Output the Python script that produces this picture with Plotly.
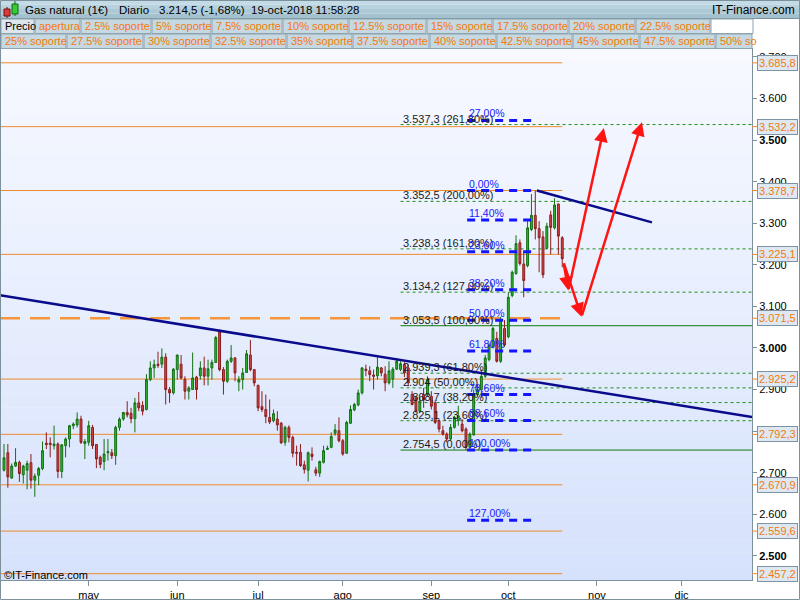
import plotly.graph_objects as go
import pandas as pd

# ---------------- data ----------------
opens = [2.706,2.748,2.687,2.716,2.725,2.695,2.706,2.724,2.682,2.694,2.710,2.771,2.771,2.765,2.769,2.703,2.765,2.781,2.813,2.815,
         2.829,2.770,2.773,2.809,2.768,2.737,2.727,2.748,2.748,2.741,2.809,2.829,2.845,2.843,2.830,2.868,2.862,2.852,2.924,2.952,
         2.961,2.961,2.978,2.900,2.892,2.948,2.961,2.925,2.896,2.900,2.930,2.933,2.952,2.932,2.952,2.965,3.039,2.948,2.920,2.968,
         2.976,2.918,2.924,2.941,2.983,2.948,2.910,2.859,2.852,2.833,2.825,2.829,2.819,2.773,2.809,2.785,2.749,2.749,2.719,2.706,
         2.745,2.707,2.699,2.725,2.756,2.761,2.795,2.801,2.777,2.747,2.819,2.851,2.863,2.892,2.949,2.945,2.935,2.933,2.952,2.937,
         2.916,2.925,2.949,2.948,2.960,2.952,2.888,2.880,2.848,2.888,2.888,2.884,2.868,2.825,2.801,2.793,2.781,2.809,2.825,2.817,
         2.805,2.761,2.791,2.888,2.900,2.932,2.972,3.003,3.023,2.968,3.047,3.027,3.126,3.179,3.253,3.202,3.198,3.285,3.319,3.287,
         3.267,3.240,3.320,3.289,3.346,3.265]
highs = [2.769,2.769,2.722,2.759,2.729,2.719,2.729,2.745,2.698,2.714,2.775,2.797,2.785,2.813,2.773,2.769,2.785,2.815,2.821,2.845,
         2.837,2.781,2.825,2.815,2.769,2.741,2.781,2.781,2.757,2.813,2.833,2.846,2.872,2.856,2.880,2.894,2.872,2.937,2.968,2.972,
         2.991,2.999,2.987,2.906,2.952,2.984,2.983,2.932,2.908,2.989,2.933,2.968,2.979,2.972,2.972,3.029,3.044,2.954,2.972,3.007,
         2.978,2.932,2.952,2.995,3.019,2.949,2.912,2.896,2.888,2.876,2.852,2.848,2.822,2.813,2.814,2.789,2.765,2.769,2.729,2.751,
         2.761,2.714,2.729,2.765,2.765,2.797,2.817,2.833,2.781,2.825,2.862,2.868,2.900,2.954,2.960,2.956,2.948,2.978,2.954,2.956,
         2.968,2.954,2.976,2.968,2.966,2.960,2.896,2.884,2.880,2.904,2.932,2.896,2.874,2.829,2.813,2.797,2.817,2.837,2.861,2.829,
         2.809,2.797,2.900,2.912,2.948,2.983,3.012,3.051,3.039,3.075,3.067,3.134,3.186,3.271,3.261,3.233,3.305,3.370,3.3787,3.305,
         3.281,3.301,3.330,3.360,3.348,3.269]
lows = [2.703,2.664,2.686,2.714,2.678,2.674,2.660,2.662,2.642,2.670,2.706,2.757,2.737,2.756,2.687,2.687,2.737,2.761,2.805,2.809,
        2.769,2.733,2.765,2.757,2.711,2.711,2.706,2.729,2.733,2.719,2.801,2.825,2.833,2.819,2.797,2.848,2.838,2.850,2.920,2.928,
        2.952,2.952,2.864,2.868,2.888,2.924,2.924,2.876,2.876,2.900,2.876,2.924,2.910,2.910,2.924,2.964,2.944,2.888,2.916,2.964,
        2.920,2.896,2.900,2.940,2.944,2.908,2.848,2.846,2.819,2.817,2.821,2.801,2.769,2.765,2.773,2.737,2.717,2.714,2.698,2.679,
        2.729,2.692,2.690,2.722,2.755,2.759,2.789,2.773,2.741,2.745,2.817,2.848,2.860,2.888,2.932,2.920,2.900,2.924,2.932,2.896,
        2.912,2.904,2.947,2.944,2.930,2.908,2.862,2.845,2.845,2.856,2.884,2.852,2.817,2.797,2.789,2.773,2.777,2.806,2.813,2.797,
        2.7545,2.757,2.789,2.884,2.880,2.928,2.968,2.999,2.965,2.964,3.003,3.023,3.122,3.176,3.198,3.122,3.194,3.281,3.261,3.182,
        3.168,3.238,3.225,3.285,3.225,3.194]
closes = [2.736,2.690,2.716,2.725,2.698,2.716,2.722,2.682,2.692,2.710,2.753,2.768,2.768,2.769,2.703,2.767,2.781,2.813,2.817,2.829,
          2.773,2.775,2.813,2.765,2.733,2.720,2.745,2.751,2.741,2.809,2.829,2.845,2.839,2.830,2.868,2.856,2.848,2.924,2.952,2.960,
          2.958,2.978,2.900,2.892,2.949,2.983,2.928,2.896,2.904,2.928,2.900,2.952,2.932,2.950,2.965,3.025,2.948,2.920,2.968,2.976,
          2.940,2.924,2.940,2.986,2.948,2.916,2.856,2.852,2.835,2.822,2.842,2.815,2.772,2.809,2.785,2.747,2.747,2.717,2.708,2.748,
          2.739,2.699,2.727,2.753,2.759,2.787,2.803,2.777,2.745,2.821,2.852,2.864,2.892,2.952,2.946,2.936,2.932,2.954,2.940,2.916,
          2.945,2.949,2.968,2.962,2.940,2.916,2.864,2.848,2.872,2.875,2.924,2.860,2.821,2.805,2.793,2.781,2.809,2.833,2.837,2.801,
          2.761,2.793,2.890,2.900,2.932,2.976,3.007,3.047,2.968,3.067,3.007,3.122,3.182,3.251,3.203,3.162,3.289,3.319,3.287,3.265,
          3.176,3.293,3.290,3.344,3.269,3.2145]
first_session = "2018-03-30"

month_labels = ["may", "jun", "jul", "ago", "sep", "oct", "nov", "dic"]
y_tick_values = [2.5, 2.6, 2.7, 2.8, 2.9, 3.0, 3.1, 3.2, 3.3, 3.4, 3.5, 3.6, 3.7]
y_bold_ticks = [2.5, 3.0, 3.5]

orange_levels = [3.6858, 3.5322, 3.3787, 3.2251, 3.0715, 2.9252, 2.7923, 2.6709, 2.5596, 2.4572]
orange_dashed_level = 3.0715

ext_low, ext_100 = 2.7545, 3.0535
ext_ratios = [0.0, 0.236, 0.382, 0.5, 0.618, 1.0, 1.27, 1.618, 2.0, 2.618]
ret_high, ret_low = 3.3787, 2.7545
ret_ratios = [-0.27, 0.0, 0.114, 0.236, 0.382, 0.5, 0.618, 0.786, 0.886, 1.0, 1.27]

trend1_x = [-1.04, 194.3]
trend1_y = [3.127, 2.834]
trend2_x = [138.4, 168.3]
trend2_y = [3.3787, 3.302]

arrow_segments = [  # (tail_x, tail_y, tip_x, tip_y)
    (145.3, 3.207, 146.6, 3.138),
    (146.6, 3.138, 155.8, 3.529),
    (145.3, 3.207, 150.0, 3.075),
    (150.0, 3.075, 165.7, 3.543),
]

header_texts = ["Gas natural (1€)", "Diario", "3.214,5 (-1,68%)", "19-oct-2018 11:58:28"]
row1_items = ["Precio", "apertura", "2.5% soporte", "5% soporte", "7.5% soporte", "10% soporte",
              "12.5% soporte", "15% soporte", "17.5% soporte", "20% soporte", "22.5% soporte"]
row2_items = ["25% soporte", "27.5% soporte", "30% soporte", "32.5% soporte", "35% soporte",
              "37.5% soporte", "40% soporte", "42.5% soporte", "45% soporte", "47.5% soporte", "50% so"]

# ---------------- layout helpers ----------------
FONT = "Arial, Liberation Sans, sans-serif"
PL, PR, PT, PB = 0, 752, 49, 580
X_MIN, X_MAX = -1.04, 194.29
Y_MIN, Y_MAX = 2.442, 3.719
n = len(opens)
idx = list(range(n))

def px(x):
    return (x - PL) / (PR - PL)

def py(y):
    return (PB - y) / (PB - PT)

def fmt_price(p, keep_dec=False):
    v = round(p * 1000, 1)
    ip = int(v)
    dec = int(round((v - ip) * 10))
    s = f"{ip // 1000}.{ip % 1000:03d}"
    if dec != 0 or keep_dec:
        s += f",{dec}"
    return s

def fmt_pct(r):
    return f"{abs(r) * 100:.2f}".replace(".", ",") + "%"

cal = pd.bdate_range(first_session, "2018-12-31")
month_pos = []
for m in [5, 6, 7, 8, 9, 10, 11, 12]:
    month_pos.append(int(next(i for i, d in enumerate(cal) if d.month == m)))

fig = go.Figure()
fig.add_trace(go.Candlestick(
    x=idx, open=opens, high=highs, low=lows, close=closes,
    increasing=dict(line=dict(color="#137013", width=1), fillcolor="#2fb82f"),
    decreasing=dict(line=dict(color="#8c1c1c", width=1), fillcolor="#d64545"),
    whiskerwidth=0, hoverinfo="skip", showlegend=False))

shapes = []
annotations = []

# plot background gradient
top_c = (247, 249, 255)
bot_c = (214, 226, 252)
NB = 40
for k in range(NB):
    t = k / (NB - 1)
    c = tuple(int(round(top_c[j] + (bot_c[j] - top_c[j]) * t)) for j in range(3))
    shapes.append(dict(type="rect", xref="paper", yref="paper", x0=0, x1=1,
                       y0=1 - (k + 1) / NB, y1=1 - k / NB, layer="below",
                       line=dict(width=0), fillcolor=f"rgb{c}"))

# orange horizontal levels
for lv in orange_levels:
    if lv == orange_dashed_level:
        shapes.append(dict(type="line", xref="x", yref="y", x0=X_MIN, x1=n - 1, y0=lv, y1=lv,
                           line=dict(color="#f5963a", width=2.5, dash="20px,10px"), layer="below"))
    else:
        shapes.append(dict(type="line", xref="x", yref="y", x0=X_MIN, x1=n - 1, y0=lv, y1=lv,
                           line=dict(color="#f08a2a", width=1), layer="below"))
    shapes.append(dict(type="line", xref="paper", yref="y", x0=1.0, x1=px(757), y0=lv, y1=lv,
                       line=dict(color="#f08a2a", width=1)))
    annotations.append(dict(xref="paper", yref="y", x=px(757), y=lv, xanchor="left", yanchor="middle",
                            text=fmt_price(lv, True), showarrow=False,
                            font=dict(family=FONT, size=11, color="#f47a0c"),
                            bgcolor="#dde8f2", bordercolor="#7d93a3", borderwidth=1, borderpad=1))

# fibonacci extension (green)
ext_x0 = 103.0
for r in ext_ratios:
    lv = ext_low + r * (ext_100 - ext_low)
    solid = r in (0.0, 1.0)
    shapes.append(dict(type="line", xref="x", yref="y", x0=ext_x0, x1=X_MAX, y0=lv, y1=lv,
                       line=dict(color="#0b7b0b" if solid else "#1f8f1f", width=1,
                                 dash="solid" if solid else "3px,3px"), layer="below"))
    annotations.append(dict(xref="x", yref="y", x=ext_x0, y=lv, xanchor="left", yanchor="bottom",
                            text=f"{fmt_price(lv)} ({fmt_pct(r)})", showarrow=False, yshift=-2,
                            font=dict(family=FONT, size=11, color="#1a1a1a")))

# fibonacci retracement (blue)
ret_x0 = 120.3
for r in ret_ratios:
    lv = ret_high - r * (ret_high - ret_low)
    x1 = 138.4 if r == 0.0 else 137.2
    shapes.append(dict(type="line", xref="x", yref="y", x0=ret_x0, x1=x1, y0=lv, y1=lv,
                       line=dict(color="#1414ff", width=3, dash="8px,6px")))
    annotations.append(dict(xref="x", yref="y", x=ret_x0, y=lv, xanchor="left", yanchor="bottom",
                            text=fmt_pct(r), showarrow=False, yshift=-1,
                            font=dict(family=FONT, size=10.5, color="#2020ff")))

# trend lines
shapes.append(dict(type="line", xref="x", yref="y", x0=trend1_x[0], x1=trend1_x[1],
                   y0=trend1_y[0], y1=trend1_y[1], line=dict(color="#0a0a8c", width=2.5)))
shapes.append(dict(type="line", xref="x", yref="y", x0=trend2_x[0], x1=trend2_x[1],
                   y0=trend2_y[0], y1=trend2_y[1], line=dict(color="#0a0a8c", width=2.5)))

# red arrows
for tx, ty, hx, hy in arrow_segments:
    annotations.append(dict(xref="x", yref="y", axref="x", ayref="y", x=hx, y=hy, ax=tx, ay=ty,
                            text="", showarrow=True, arrowhead=2, arrowsize=1.1, arrowwidth=2.5,
                            arrowcolor="#ff1414", standoff=0, startstandoff=0))

# header bar
hdr_cols = ["#c2dbe6", "#b7d2de", "#adc9d6", "#a4c1cf"]
for k, c in enumerate(hdr_cols):
    shapes.append(dict(type="rect", xref="paper", yref="paper", x0=px(0), x1=px(800),
                       y0=py(18 * (k + 1) / 4), y1=py(18 * k / 4), line=dict(width=0), fillcolor=c))
shapes.append(dict(type="line", xref="paper", yref="paper", x0=px(0), x1=px(800), y0=py(18.5), y1=py(18.5),
                   line=dict(color="#7d919c", width=1)))
# candle icon
shapes.append(dict(type="line", xref="paper", yref="paper", x0=px(7), x1=px(7), y0=py(18), y1=py(7),
                   line=dict(color="#6b1010", width=1)))
shapes.append(dict(type="rect", xref="paper", yref="paper", x0=px(4), x1=px(10), y0=py(16), y1=py(9),
                   line=dict(color="#6b1010", width=1), fillcolor="#e03a3a"))
shapes.append(dict(type="line", xref="paper", yref="paper", x0=px(15), x1=px(15), y0=py(16), y1=py(1),
                   line=dict(color="#106b10", width=1)))
shapes.append(dict(type="rect", xref="paper", yref="paper", x0=px(12), x1=px(18), y0=py(14), y1=py(4),
                   line=dict(color="#106b10", width=1), fillcolor="#35cc35"))

hdr_x = [23, 117, 157, 249]
for txt, x0 in zip(header_texts, hdr_x):
    annotations.append(dict(xref="paper", yref="paper", x=px(x0), y=py(9.5), xanchor="left", yanchor="middle",
                            text=txt, showarrow=False, font=dict(family=FONT, size=11.5, color="#000000")))
annotations.append(dict(xref="paper", yref="paper", x=px(797), y=py(9.5), xanchor="right", yanchor="middle",
                        text="IT-Finance.com", showarrow=False, font=dict(family=FONT, size=12, color="#000000")))

# legend rows
row1_edges = [1, 35, 81, 152, 212, 283, 349, 427, 493, 569, 636, 711]
row2_edges = [1, 67, 144, 211, 287, 353, 430, 497, 573, 640, 716, 753]
for items, edges, (ya, yb) in ((row1_items, row1_edges, (19, 33.5)), (row2_items, row2_edges, (34, 48.5))):
    for k, txt in enumerate(items):
        xa, xb = edges[k], edges[k + 1] - 1
        is_price = txt == "Precio"
        shapes.append(dict(type="rect", xref="paper", yref="paper", x0=px(xa), x1=px(xb),
                           y0=py(yb), y1=py(ya), line=dict(color="#8ea4b0", width=1),
                           fillcolor="#dce6eb" if is_price else "#c6d8e1"))
        annotations.append(dict(xref="paper", yref="paper", x=px(xa + 2), y=py((ya + yb) / 2), xanchor="left",
                                yanchor="middle", text=txt, showarrow=False,
                                font=dict(family=FONT, size=11, color="#000000" if is_price else "#f47a0c")))
shapes.append(dict(type="rect", xref="paper", yref="paper", x0=px(711), x1=px(753), y0=py(33.5), y1=py(19),
                   line=dict(color="#8ea4b0", width=1), fillcolor="#ffffff"))

# outer frame
shapes.append(dict(type="rect", xref="paper", yref="paper", x0=px(0.5), x1=px(799.5), y0=py(599.5), y1=py(0.5),
                   line=dict(color="#7d919c", width=1), fillcolor="rgba(0,0,0,0)"))

annotations.append(dict(xref="paper", yref="paper", x=px(2), y=py(575), xanchor="left", yanchor="middle",
                        text="©IT-Finance.com", showarrow=False, font=dict(family=FONT, size=11, color="#000000")))

y_ticktext = [(f"<b>{v:.3f}</b>" if v in y_bold_ticks else f"{v:.3f}") for v in y_tick_values]

fig.update_layout(
    width=800, height=600,
    margin=dict(l=PL, r=800 - PR, t=PT, b=600 - PB, pad=0),
    paper_bgcolor="#ffffff", plot_bgcolor="#eef2fd",
    showlegend=False,
    font=dict(family=FONT, size=11, color="#000000"),
    shapes=shapes, annotations=annotations,
    xaxis=dict(range=[X_MIN, X_MAX], rangeslider=dict(visible=False), showgrid=False, zeroline=False,
               tickmode="array", tickvals=month_pos, ticktext=month_labels,
               ticks="outside", ticklen=5, tickcolor="#7d919c", tickfont=dict(size=11, color="#000000"),
               showline=True, mirror=True, linecolor="#7d919c", linewidth=1, fixedrange=True),
    yaxis=dict(range=[Y_MIN, Y_MAX], side="right", showgrid=False, zeroline=False,
               tickmode="array", tickvals=y_tick_values, ticktext=y_ticktext,
               ticks="outside", ticklen=4, tickcolor="#7d919c", tickfont=dict(size=11, color="#000000"),
               showline=True, mirror=True, linecolor="#7d919c", linewidth=1, fixedrange=True),
)

fig.write_html("out.html", config={"displayModeBar": False},
               post_script="document.body.style.margin='0';document.body.style.overflow='hidden';")
